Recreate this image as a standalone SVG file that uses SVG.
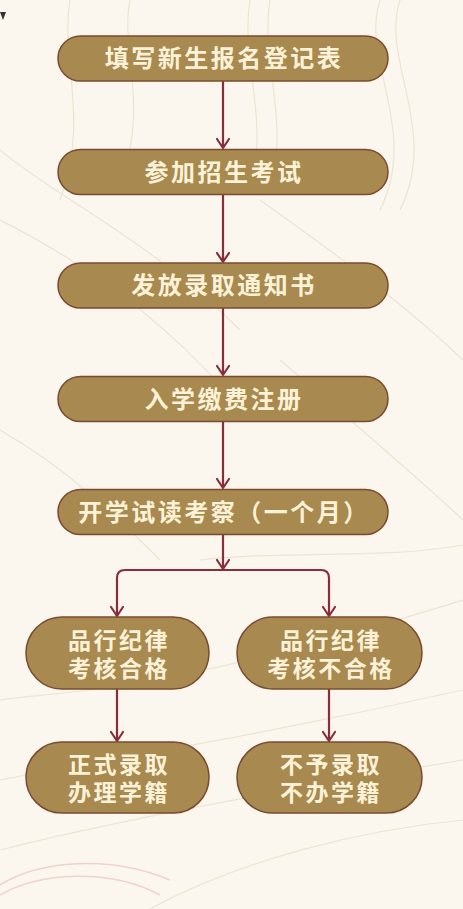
<svg xmlns="http://www.w3.org/2000/svg" width="463" height="909" viewBox="0 0 463 909">
<defs>
<style>
.bg{fill:#fbf7ee}
.wave{fill:none;stroke:#ece4d3;stroke-width:1.2}
.ring{fill:none;stroke:#efd2cc;stroke-width:1.5}
.pill{fill:#a8894f;stroke:#7b4a30;stroke-width:1.5}
.t{fill:#fcf2d8;font-family:"Noto Sans CJK SC","Noto Sans",sans-serif;font-size:24px;font-weight:700;text-anchor:middle;letter-spacing:2.5px}
.t2{font-size:23px}
.c{fill:none;stroke:#8a2d3b;stroke-width:2.2;stroke-linecap:round;stroke-linejoin:round}
</style>
</defs>
<rect class="bg" x="0" y="0" width="463" height="909"/>
<g id="background">
<path class="wave" d="M70,0 C60,60 90,120 60,200"/>
<path class="wave" d="M130,0 C120,50 150,110 120,180"/>
<path class="wave" d="M250,0 C240,60 270,120 250,190"/>
<path class="wave" d="M270,0 C260,60 290,120 270,190"/>
<path class="wave" d="M380,0 C360,60 420,130 380,210"/>
<path class="wave" d="M400,0 C380,60 440,130 400,210"/>
<path class="wave" d="M0,150 C60,200 150,240 240,330"/>
<path class="wave" d="M0,220 C80,260 170,320 250,420"/>
<path class="wave" d="M260,200 C330,250 400,300 463,360"/>
<path class="wave" d="M280,360 C350,420 410,470 463,520"/>
<path class="wave" d="M0,430 C70,470 120,520 160,560"/>
<path class="wave" d="M200,560 C280,550 380,560 463,545"/>
<path class="wave" d="M0,700 C60,690 140,700 463,600"/>
<path class="wave" d="M0,780 C100,760 240,740 463,690"/>
<path class="wave" d="M0,850 C120,820 280,790 463,760"/>
<path class="wave" d="M150,909 C240,860 360,830 463,820"/>
<path class="ring" d="M0,885 C40,860 110,855 170,880"/>
<path class="ring" d="M0,895 C40,872 110,868 160,895"/>
<path d="M0,12 L6,12 L3,20 Z" fill="#333"/>
</g>
<g id="connectors">
<path class="c" d="M223,81 L223,148 M217,139 L223,148 L229,139"/>
<path class="c" d="M223,195 L223,262 M217,253 L223,262 L229,253"/>
<path class="c" d="M223,308 L223,375 M217,366 L223,375 L229,366"/>
<path class="c" d="M223,421 L223,488 M217,479 L223,488 L229,479"/>
<path class="c" d="M223,535 L223,569 M217,560 L223,569 L229,560"/>
<path class="c" d="M117,616 L117,578 Q117,570 125,570 L321,570 Q329,570 329,578 L329,616"/>
<path class="c" d="M111,607 L117,616 L123,607"/>
<path class="c" d="M323,607 L329,616 L335,607"/>
<path class="c" d="M117,689 L117,741 M111,732 L117,741 L123,732"/>
<path class="c" d="M329,689 L329,741 M323,732 L329,741 L335,732"/>
</g>
<g id="n1"><rect class="pill" x="58" y="36" width="330" height="45" rx="22.5"/><text class="t" x="224" y="67">填写新生报名登记表</text></g>
<g id="n2"><rect class="pill" x="58" y="149.5" width="330" height="45" rx="22.5"/><text class="t" x="224" y="180.5">参加招生考试</text></g>
<g id="n3"><rect class="pill" x="58" y="263" width="330" height="45" rx="22.5"/><text class="t" x="224" y="294">发放录取通知书</text></g>
<g id="n4"><rect class="pill" x="58" y="376.5" width="330" height="45" rx="22.5"/><text class="t" x="224" y="407.5">入学缴费注册</text></g>
<g id="n5"><rect class="pill" x="58" y="489.5" width="330" height="45" rx="22.5"/><text class="t" x="224" y="520.5">开学试读考察（一个月）</text></g>
<g id="n6"><rect class="pill" x="26" y="617" width="183" height="72" rx="36"/><text class="t t2" x="119" y="649">品行纪律</text><text class="t t2" x="119" y="677">考核合格</text></g>
<g id="n7"><rect class="pill" x="237" y="617" width="185" height="72" rx="36"/><text class="t t2" x="331" y="649">品行纪律</text><text class="t t2" x="331" y="677">考核不合格</text></g>
<g id="n8"><rect class="pill" x="26" y="742" width="183" height="71" rx="35.5"/><text class="t t2" x="119" y="773">正式录取</text><text class="t t2" x="119" y="801">办理学籍</text></g>
<g id="n9"><rect class="pill" x="237" y="742" width="185" height="71" rx="35.5"/><text class="t t2" x="331" y="773">不予录取</text><text class="t t2" x="331" y="801">不办学籍</text></g>
</svg>
